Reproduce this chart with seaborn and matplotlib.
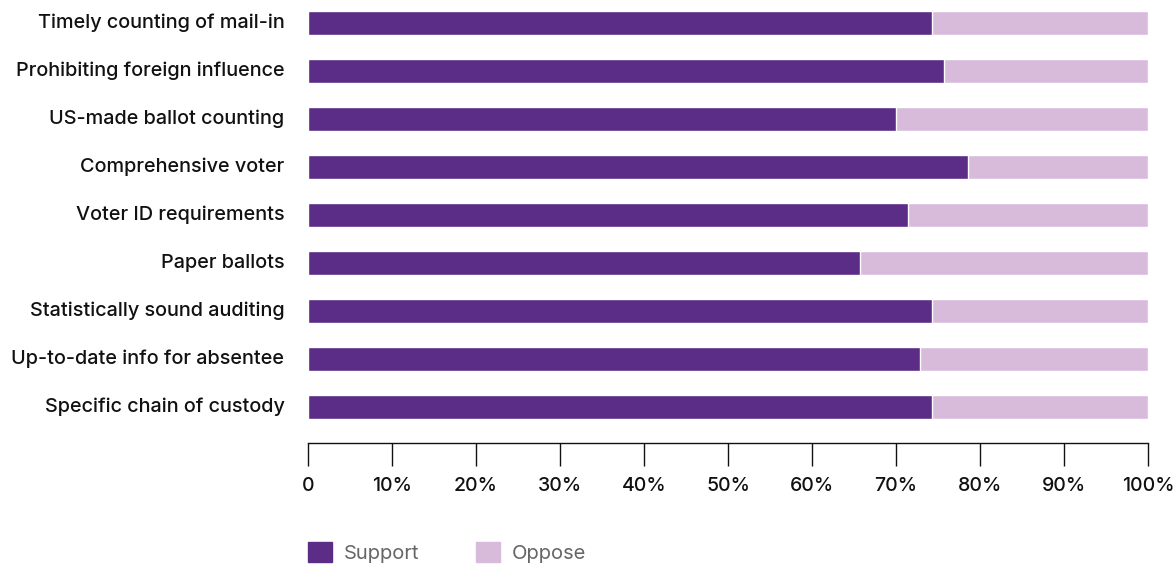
import numpy as np
import pandas as pd
import matplotlib.pyplot as plt
import matplotlib.patches as mpatches
import matplotlib.transforms as mtransforms
import seaborn as sns

measures = ['Timely counting of mail-in', 'Prohibiting foreign influence', 'US-made ballot counting',
            'Comprehensive voter', 'Voter ID requirements', 'Paper ballots',
            'Statistically sound auditing', 'Up-to-date info for absentee', 'Specific chain of custody']
support = [74.3, 75.7, 70.0, 78.6, 71.4, 65.7, 74.3, 72.9, 74.3]
oppose = [25.7, 24.3, 30.0, 21.4, 28.6, 34.3, 25.7, 27.1, 25.7]
xticks = [0, 10, 20, 30, 40, 50, 60, 70, 80, 90, 100]
xtick_labels = ['0', '10%', '20%', '30%', '40%', '50%', '60%', '70%', '80%', '90%', '100%']

SUPPORT_COLOR = '#5c2d87'
OPPOSE_COLOR = '#d8bbdb'


def main():
    sns.set_theme(style="white")
    plt.rcParams['font.family'] = ['Inter', 'DejaVu Sans']

    df = pd.DataFrame({'measure': measures, 'support': support, 'oppose': oppose})
    df['total'] = df['support'] + df['oppose']

    fig = plt.figure(figsize=(11.76, 5.64), dpi=100)
    ax = fig.add_axes([308 / 1176, 1 - 443 / 564, 840 / 1176, 443 / 564])

    # stacked: full bar in oppose colour, support drawn over it
    sns.barplot(data=df, x='total', y='measure', color=OPPOSE_COLOR, width=0.5,
                saturation=1, ax=ax, orient='h')
    sns.barplot(data=df, x='support', y='measure', color=SUPPORT_COLOR, width=0.5,
                saturation=1, ax=ax, orient='h')

    ax.set_xlim(0, 100)
    ax.set_ylim(8.75, -0.48)
    ax.set_xlabel('')
    ax.set_ylabel('')
    ax.set_xticks(xticks)
    ax.set_xticklabels(xtick_labels, fontsize=14, color='#111111', fontweight='medium')
    ax.tick_params(axis='x', direction='out', length=16.5, width=1, color='#111111', pad=8, bottom=True)
    ax.tick_params(axis='y', length=0, pad=17)
    # labels sit a touch above the bar centre in the original
    shift = mtransforms.ScaledTranslation(0, 2.5 / 100, fig.dpi_scale_trans)
    for lbl in ax.get_yticklabels():
        lbl.set_fontsize(14.3)
        lbl.set_fontweight('medium')
        lbl.set_color('#111111')
        lbl.set_transform(lbl.get_transform() + shift)

    for side in ['top', 'right', 'left']:
        ax.spines[side].set_visible(False)
    ax.spines['bottom'].set_color('#111111')
    ax.spines['bottom'].set_linewidth(1)

    handles = [mpatches.Patch(color=SUPPORT_COLOR, label='Support'),
               mpatches.Patch(color=OPPOSE_COLOR, label='Oppose')]
    fig.legend(handles=handles, loc='lower left', bbox_to_anchor=(308 / 1176, 1 / 564),
               ncol=2, frameon=False, fontsize=14.5, labelcolor='#666666',
               borderpad=0, borderaxespad=0,
               handlelength=1.19, handleheight=1.19, handletextpad=0.6, columnspacing=2.8)

    plt.savefig('out.png', dpi=100)
    plt.close()


if __name__ == "__main__":
    main()
